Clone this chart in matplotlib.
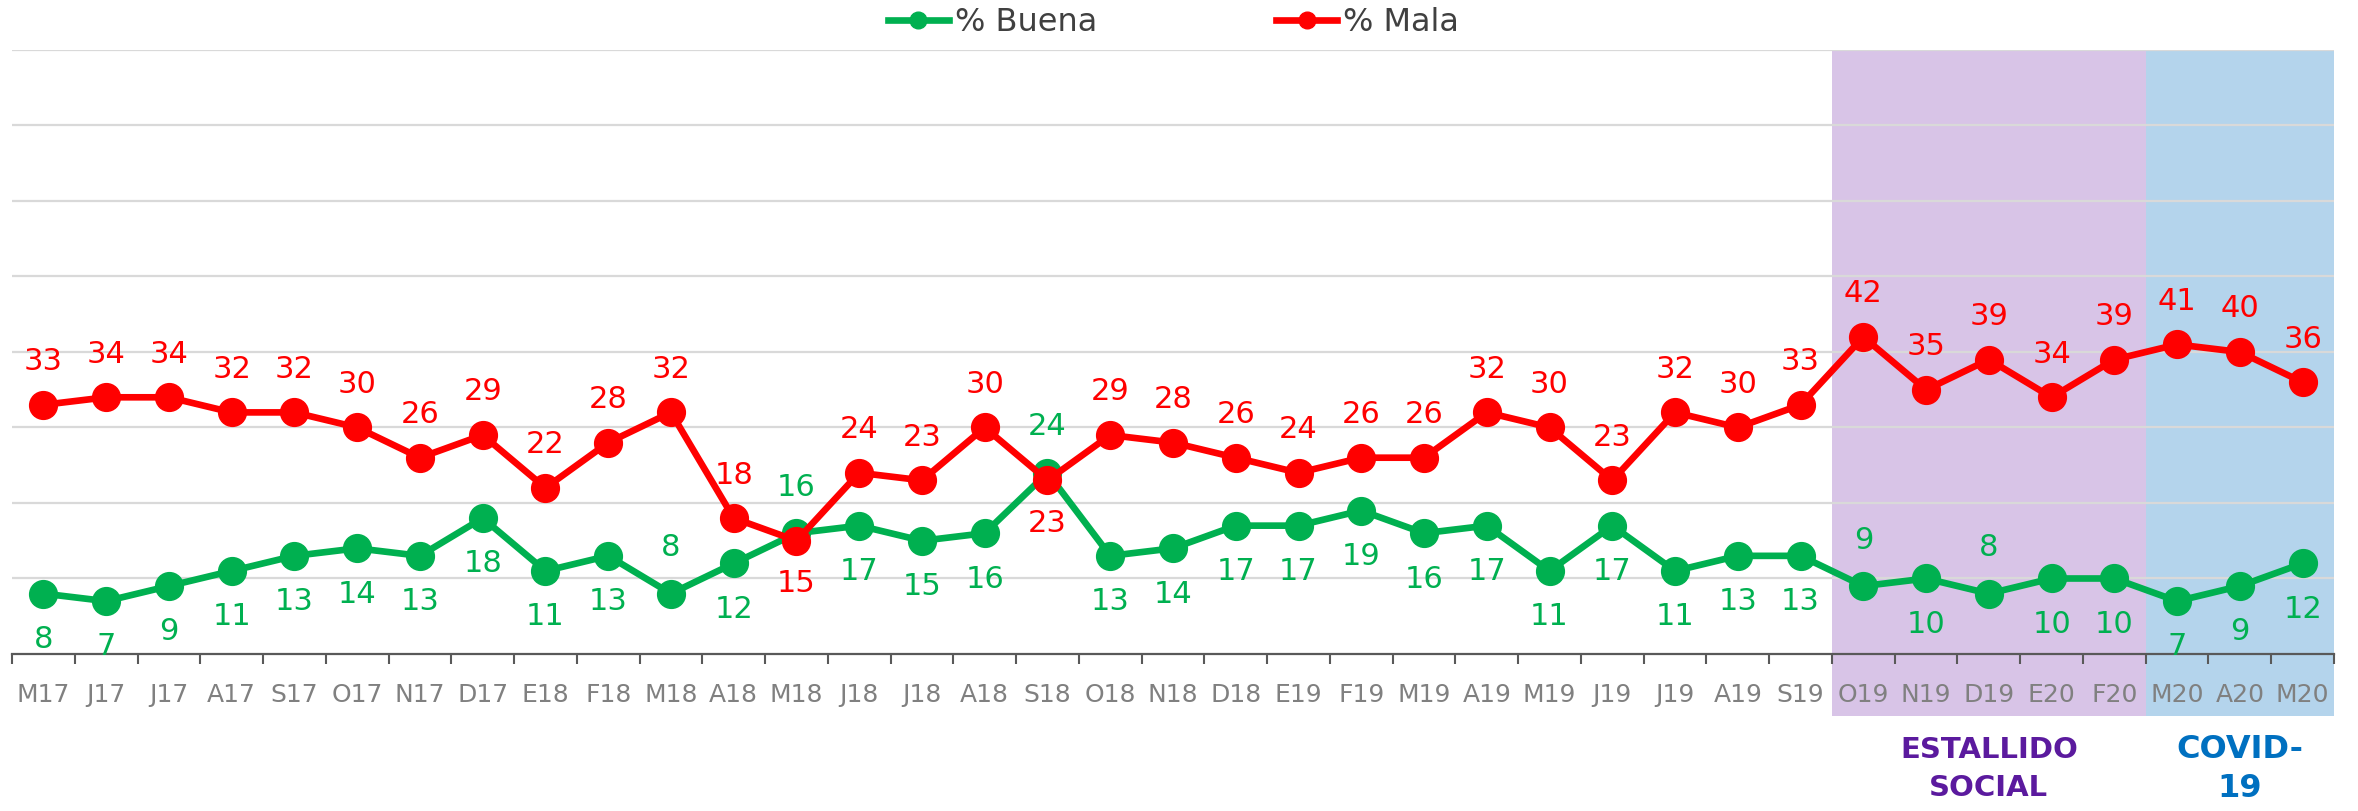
import matplotlib.pyplot as plt
import matplotlib.transforms as mtransforms
from matplotlib.ticker import FixedLocator

# data
meses = ["M17", "J17", "J17", "A17", "S17", "O17", "N17", "D17", "E18", "F18",
         "M18", "A18", "M18", "J18", "J18", "A18", "S18", "O18", "N18", "D18",
         "E19", "F19", "M19", "A19", "M19", "J19", "J19", "A19", "S19", "O19",
         "N19", "D19", "E20", "F20", "M20", "A20", "M20"]
buena = [8, 7, 9, 11, 13, 14, 13, 18, 11, 13, 8, 12, 16, 17, 15, 16, 24, 13, 14,
         17, 17, 19, 16, 17, 11, 17, 11, 13, 13, 9, 10, 8, 10, 10, 7, 9, 12]
mala = [33, 34, 34, 32, 32, 30, 26, 29, 22, 28, 32, 18, 15, 24, 23, 30, 23, 29, 28,
        26, 24, 26, 26, 32, 30, 23, 32, 30, 33, 42, 35, 39, 34, 39, 41, 40, 36]
# labels that sit on the other side of the point
buena_arriba = [10, 12, 16, 29, 31]
mala_abajo = [12, 16]
# shaded periods (first, last index)
estallido = (29, 33)
covid = (34, 36)

verde = "#00B050"
rojo = "#FF0000"

fig = plt.figure(figsize=(23.58, 8.11), dpi=100)
ax = fig.add_axes([0.00509, 0.19359, 0.98473, 0.74476])

x = list(range(len(meses)))
ax.set_xlim(-0.5, len(meses) - 0.5)
ax.set_ylim(0, 80)

# periods
ax.axvspan(estallido[0] - 0.5, estallido[1] + 0.5, ymin=-0.103, ymax=1,
           color="#D8C4E7", lw=0, zorder=0, clip_on=False)
ax.axvspan(covid[0] - 0.5, covid[1] + 0.5, ymin=-0.103, ymax=1,
           color="#B4D4EC", lw=0, zorder=0, clip_on=False)

for yv in range(10, 81, 10):
    ax.axhline(yv, color="#D9D9D9", lw=1.6, zorder=0.5)

ax.plot(x, buena, color=verde, lw=4.8, marker="o", markersize=20,
        label="% Buena", zorder=3)
ax.plot(x, mala, color=rojo, lw=4.8, marker="o", markersize=20,
        label="% Mala", zorder=4)

for i, v in enumerate(buena):
    dy = 33 if i in buena_arriba else -33
    ax.annotate(str(v), (i, v), xytext=(0, dy), textcoords="offset points",
                ha="center", va="center", fontsize=22, color=verde)
for i, v in enumerate(mala):
    dy = -31 if i in mala_abajo else 31
    ax.annotate(str(v), (i, v), xytext=(0, dy), textcoords="offset points",
                ha="center", va="center", fontsize=22, color=rojo)

# axis styling
for s in ["left", "right", "top"]:
    ax.spines[s].set_visible(False)
ax.spines["bottom"].set_color("#595959")
ax.spines["bottom"].set_linewidth(1.6)
ax.set_yticks([])
ax.set_xticks(x)
ax.set_xticklabels(meses, fontsize=18, color="#808080")
ax.tick_params(axis="x", which="major", length=0, pad=21)
ax.xaxis.set_minor_locator(FixedLocator([i - 0.5 for i in range(len(meses) + 1)]))
ax.tick_params(axis="x", which="minor", length=7, width=1.5, color="#595959",
               direction="out")

trans = mtransforms.blended_transform_factory(ax.transData, ax.transAxes)
ax.text((estallido[0] + estallido[1]) / 2, -0.19, "ESTALLIDO\nSOCIAL",
        transform=trans, ha="center", va="center", fontsize=21,
        fontweight="bold", color="#5B1A9E", linespacing=1.45)
ax.text((covid[0] + covid[1]) / 2, -0.19, "COVID-\n19",
        transform=trans, ha="center", va="center", fontsize=23,
        fontweight="bold", color="#0070C0", linespacing=1.35)

leg = fig.legend(loc="center", bbox_to_anchor=(0.4977, 0.972), ncol=2,
                 frameon=False, fontsize=23, handlelength=1.9,
                 handletextpad=0.2, columnspacing=5.6, markerscale=0.6)
for t in leg.get_texts():
    t.set_color("#404040")

plt.savefig("out.png", dpi=100)
